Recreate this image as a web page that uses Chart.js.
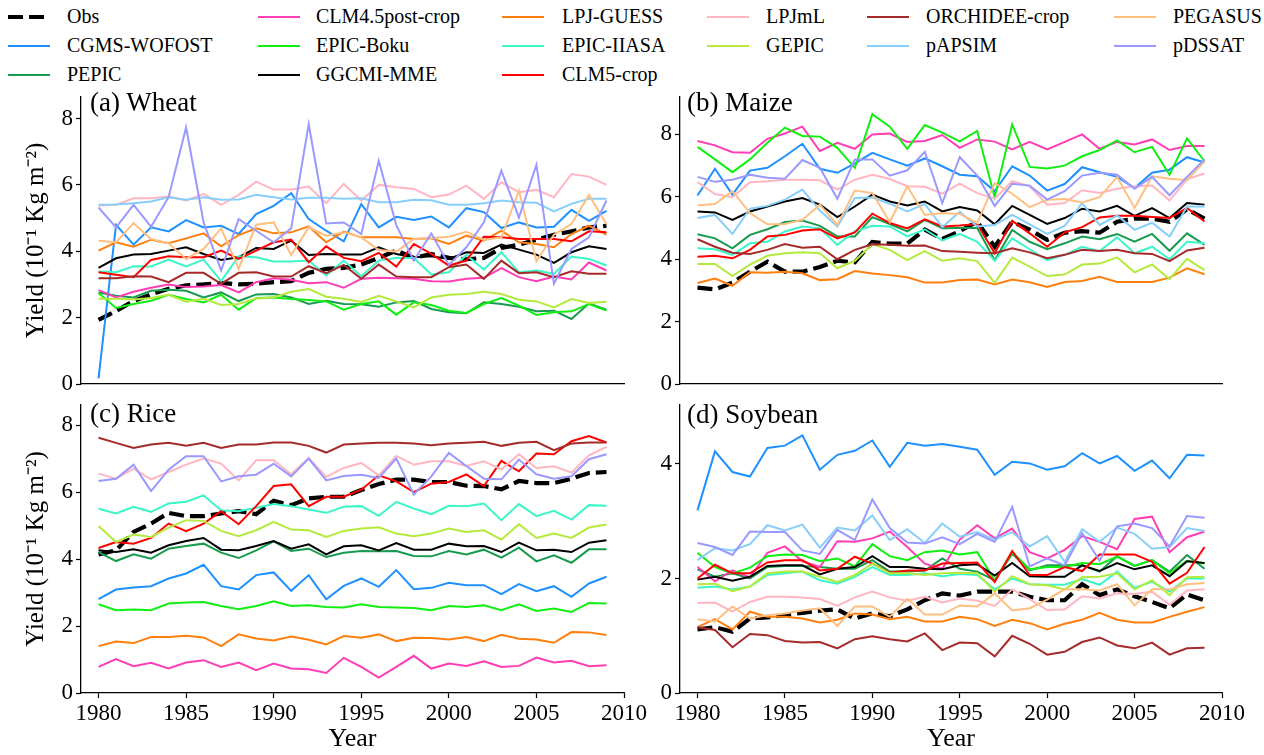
<!DOCTYPE html>
<html lang="en">
<head>
<meta charset="UTF-8">
<title>Crop yields 1980-2009</title>
<script src="https://cdn.jsdelivr.net/npm/chart.js"></script>
<style>
    body { margin: 0; background: #fff; font-family: 'Liberation Serif', 'Times New Roman', serif; color: #000; }
    #page { position: relative; width: 1264px; height: 755px; overflow: hidden; }
    canvas { position: absolute; }
    .ptitle { position: absolute; font-size: 27px; line-height: 27px; white-space: nowrap; }
    .legtext { position: absolute; font-size: 20px; line-height: 20px; white-space: nowrap; }
    .legline { position: absolute; }
</style>
</head>
<body>
<div id="page">
    <div id="legend"></div>
    <canvas id="wheat" width="665" height="310" style="left:0;top:90px"></canvas>
    <canvas id="maize" width="624" height="310" style="left:640px;top:90px"></canvas>
    <canvas id="rice" width="665" height="355" style="left:0;top:400px"></canvas>
    <canvas id="soybean" width="624" height="355" style="left:640px;top:400px"></canvas>
    <div class="ptitle" style="left:90px;top:89px">(a) Wheat</div>
    <div class="ptitle" style="left:687px;top:89px">(b) Maize</div>
    <div class="ptitle" style="left:90px;top:400px">(c) Rice</div>
    <div class="ptitle" style="left:687px;top:401px">(d) Soybean</div>
</div>
<script>
    const years = [1980,1981,1982,1983,1984,1985,1986,1987,1988,1989,1990,1991,1992,1993,1994,
                   1995,1996,1997,1998,1999,2000,2001,2002,2003,2004,2005,2006,2007,2008,2009];
    const yearTicks = [1980, 1985, 1990, 1995, 2000, 2005, 2010];

    const models = ['Obs', 'CGMS-WOFOST', 'PEPIC', 'CLM4.5post-crop', 'EPIC-Boku', 'GGCMI-MME',
                    'LPJ-GUESS', 'EPIC-IIASA', 'CLM5-crop', 'LPJmL', 'GEPIC', 'ORCHIDEE-crop',
                    'pAPSIM', 'PEGASUS', 'pDSSAT'];
    const colors = ['#000000', '#1e90ff', '#179b4e', '#ff3db4', '#11ee11', '#000000',
                    '#ff7f0e', '#3cf5c8', '#ff0000', '#ffb6c1', '#b5ea3c', '#a52a2a',
                    '#87cefa', '#ffbf80', '#9999ff'];

    // wheat
    const wheatObs = [1.93,2.2,2.5,2.7,2.87,2.97,3.0,3.05,3.0,3.02,3.07,3.1,3.35,3.47,3.5,3.6,3.8,4.02,3.8,3.92,3.8,3.76,3.8,4.1,4.2,4.35,4.5,4.6,4.72,4.77];
    const wheatCgms = [0.17,4.8,4.2,4.72,4.6,4.94,4.72,4.77,4.52,5.12,5.37,5.75,4.97,4.62,4.3,5.42,4.72,5.04,4.94,5.05,4.72,5.3,5.18,4.7,4.87,4.72,4.74,5.25,4.92,5.22];
    const wheatPepic = [2.76,2.66,2.61,2.81,2.84,2.81,2.61,2.76,2.5,2.7,2.71,2.61,2.41,2.51,2.41,2.4,2.33,2.46,2.5,2.26,2.16,2.13,2.46,2.41,2.33,2.19,2.21,1.96,2.43,2.24];
    const wheatClm45 = [2.83,2.61,2.78,2.9,3.0,2.92,2.94,2.98,2.76,3.07,3.19,3.14,3.04,3.07,2.9,3.17,3.2,3.19,3.17,3.1,3.09,3.17,3.2,3.49,3.22,3.1,3.24,3.15,3.66,3.42];
    const wheatEpicBoku = [2.74,2.29,2.41,2.51,2.69,2.56,2.46,2.69,2.24,2.59,2.61,2.56,2.53,2.49,2.24,2.41,2.49,2.09,2.46,2.38,2.21,2.14,2.41,2.59,2.36,2.08,2.16,2.19,2.41,2.21];
    const wheatMme = [3.5,3.79,3.9,3.92,4.02,4.12,3.92,3.74,3.82,4.1,4.07,4.32,3.89,3.92,3.9,3.9,4.12,3.92,3.82,3.85,3.77,3.97,3.95,4.2,4.05,3.9,3.65,3.97,4.15,4.07];
    const wheatLpjGuess = [4.02,4.27,4.14,4.35,4.24,4.39,4.54,4.15,4.49,4.69,4.54,4.57,4.75,4.27,4.59,4.42,4.42,4.42,4.37,4.39,4.22,4.47,4.32,4.62,4.27,4.22,4.12,4.52,4.77,4.5];
    const wheatEpicIiasa = [3.39,3.37,3.55,3.54,3.75,3.54,3.75,3.1,3.85,3.82,3.69,3.69,3.72,3.27,3.72,3.25,3.72,3.8,3.8,3.3,3.37,3.89,3.45,3.97,3.37,3.42,3.32,3.84,3.77,3.57];
    const wheatClm5 = [3.37,3.29,3.22,3.74,3.85,3.82,3.82,4.02,3.77,4.02,4.27,4.35,3.67,4.15,3.8,3.7,3.95,3.54,4.22,3.92,3.57,3.72,4.44,4.42,4.37,4.37,4.37,4.3,4.6,4.57];
    const wheatLpjml = [5.38,5.4,5.6,5.6,5.65,5.53,5.73,5.4,5.7,6.1,5.86,5.86,5.95,5.45,6.03,5.53,6.0,5.93,5.88,5.63,5.71,5.98,5.58,6.08,5.78,5.85,5.63,6.33,6.25,6.0];
    const wheatGepic = [2.57,2.57,2.55,2.59,2.69,2.48,2.57,2.38,2.41,2.58,2.61,2.78,2.86,2.63,2.57,2.47,2.66,2.49,2.31,2.61,2.69,2.71,2.78,2.71,2.54,2.49,2.31,2.56,2.44,2.48];
    const wheatOrchidee = [3.19,3.19,3.25,3.24,3.07,3.35,3.35,3.02,3.35,3.37,3.24,3.24,3.55,3.34,3.59,3.17,3.6,3.24,3.22,3.22,3.52,3.6,3.17,3.72,3.34,3.37,3.22,3.4,3.32,3.32];
    const wheatPapsim = [5.4,5.41,5.45,5.5,5.63,5.55,5.63,5.55,5.56,5.7,5.63,5.56,5.61,5.61,5.58,5.6,5.48,5.48,5.55,5.54,5.4,5.4,5.45,5.53,5.48,5.46,5.2,5.43,5.58,5.58];
    const wheatPegasus = [4.32,4.27,4.85,4.37,4.24,3.77,4.07,4.69,3.47,4.8,4.87,3.89,4.72,4.47,4.57,4.42,4.04,3.99,4.37,4.4,4.44,4.59,4.34,4.42,5.83,3.7,4.5,4.82,5.7,4.82];
    const wheatPdssat = [5.32,4.72,5.4,4.74,5.63,7.73,4.87,3.42,4.97,4.62,4.27,4.69,7.83,4.84,4.87,4.52,6.73,4.79,3.72,4.54,3.59,4.12,4.87,6.43,5.02,6.61,3.02,4.07,4.42,5.53];

    // maize
    const maizeObs = [3.09,3.03,3.25,3.6,3.92,3.6,3.6,3.75,3.95,3.9,4.55,4.5,4.5,4.95,4.65,4.9,5.2,4.4,5.2,4.95,4.62,4.85,4.9,4.85,5.2,5.3,5.3,5.2,5.6,5.3];
    const maizeCgms = [6.04,6.9,6.07,6.84,6.93,7.3,7.7,6.9,6.77,7.07,7.41,7.2,7.0,7.23,6.98,6.71,6.66,6.18,6.98,6.68,6.2,6.41,6.95,6.79,6.64,6.28,6.77,6.87,7.27,7.1];
    const maizePepic = [4.8,4.67,4.35,4.78,4.96,5.19,5.24,5.07,4.73,4.73,5.35,5.13,4.89,5.26,4.99,5.0,5.0,3.97,4.94,4.56,4.32,4.51,4.73,4.64,4.81,4.56,4.81,4.27,4.83,4.46];
    const maizeClm45 = [7.79,7.65,7.43,7.41,7.86,8.03,8.25,7.47,7.73,7.54,8.0,8.03,7.76,7.79,7.98,7.57,7.84,7.77,7.52,7.76,7.52,7.76,8.0,7.54,7.76,7.68,7.84,7.5,7.63,7.63];
    const maizeEpicBoku = [7.6,7.2,6.79,7.2,7.73,8.22,7.95,7.93,7.57,6.93,8.65,8.25,7.54,8.3,8.06,7.78,8.11,5.99,8.32,6.96,6.91,7.0,7.3,7.5,7.81,7.43,7.6,6.71,7.87,7.14];
    const maizeMme = [5.53,5.5,5.26,5.53,5.69,5.85,5.96,5.75,5.35,5.69,6.07,5.85,5.72,5.85,5.53,5.67,5.56,5.12,5.71,5.42,5.13,5.32,5.62,5.53,5.71,5.39,5.64,5.32,5.8,5.75];
    const maizeLpjGuess = [3.24,3.38,3.15,3.58,3.57,3.6,3.55,3.33,3.36,3.62,3.54,3.49,3.42,3.25,3.25,3.33,3.35,3.19,3.35,3.26,3.11,3.27,3.3,3.44,3.27,3.27,3.27,3.41,3.71,3.52];
    const maizeEpicIiasa = [4.35,4.32,4.14,4.51,4.56,4.89,5.05,4.99,4.46,4.89,5.07,5.05,4.73,4.96,4.6,4.81,4.56,3.95,4.67,4.32,3.97,4.14,4.4,4.26,4.7,4.19,4.4,4.0,4.56,4.51];
    const maizeClm5 = [4.08,4.11,4.03,4.3,4.73,4.78,4.92,4.96,4.67,4.86,5.46,5.16,4.99,5.28,5.05,5.08,5.13,4.19,5.23,4.83,4.4,4.86,5.03,5.34,5.39,5.39,5.35,5.32,5.64,5.21];
    const maizeLpjml = [6.47,6.09,5.99,6.47,6.5,6.55,6.55,6.53,6.23,6.55,6.71,6.57,6.34,6.32,6.1,6.42,6.12,5.94,6.5,6.34,5.75,5.8,6.21,6.12,6.26,6.34,6.36,5.88,6.57,6.75];
    const maizeGepic = [3.85,3.85,3.46,3.83,4.11,4.19,4.22,4.19,3.71,3.95,4.48,4.3,3.97,4.26,3.95,4.03,3.94,3.24,4.05,3.76,3.46,3.51,3.83,3.86,4.06,3.58,3.83,3.36,4.01,3.65];
    const maizeOrchidee = [4.64,4.4,4.21,4.17,4.3,4.49,4.37,4.4,4.0,4.3,4.48,4.46,4.43,4.44,4.26,4.24,4.21,4.19,4.35,4.22,4.03,4.14,4.3,4.26,4.3,4.19,4.17,3.94,4.28,4.37];
    const maizePapsim = [5.32,5.42,4.81,5.62,5.71,5.91,6.23,5.56,5.05,5.96,5.98,5.78,5.53,5.77,5.03,5.52,5.05,5.1,5.42,5.12,4.81,5.07,5.8,5.1,5.4,4.94,5.17,4.73,5.69,5.69];
    const maizePegasus = [5.73,5.77,6.18,5.48,5.12,5.13,5.26,5.75,5.1,6.2,6.12,5.19,6.34,5.42,5.48,5.45,5.16,6.44,6.1,5.67,5.91,5.93,5.82,5.99,6.64,5.64,6.66,6.58,6.53,7.14];
    const maizePdssat = [6.64,6.48,6.55,6.71,6.61,6.58,7.18,6.93,5.94,7.2,7.2,6.68,6.85,7.44,5.8,7.27,6.68,5.71,6.42,6.36,5.91,6.18,6.68,6.77,6.71,6.26,6.64,6.05,6.64,7.2];

    // rice (no pAPSIM / PEGASUS)
    const riceObs = [4.14,4.26,4.81,5.06,5.38,5.28,5.28,5.36,5.43,5.34,5.74,5.61,5.81,5.86,5.86,6.06,6.24,6.37,6.37,6.3,6.3,6.19,6.18,6.08,6.33,6.27,6.27,6.4,6.57,6.6];
    const riceCgms = [2.8,3.09,3.15,3.19,3.42,3.57,3.83,3.19,3.09,3.52,3.6,3.05,3.52,2.8,3.2,3.42,3.17,3.67,3.1,3.14,3.29,3.22,3.22,2.95,3.25,3.04,3.19,2.87,3.27,3.47];
    const ricePepic = [4.21,3.94,4.14,4.01,4.31,4.39,4.46,4.19,4.03,4.26,4.53,4.24,4.31,4.06,4.19,4.24,4.23,4.24,4.09,4.08,4.24,4.14,4.28,4.04,4.34,3.93,4.11,3.89,4.29,4.29];
    const riceClm45 = [0.78,1.01,0.8,0.9,0.73,0.91,0.98,0.78,0.91,0.68,0.88,0.73,0.71,0.6,1.05,0.78,0.46,0.78,1.11,0.73,0.88,0.81,0.95,0.78,0.81,1.06,0.91,0.96,0.8,0.83];
    const riceEpicBoku = [2.65,2.47,2.49,2.47,2.67,2.7,2.72,2.6,2.5,2.6,2.74,2.6,2.62,2.57,2.55,2.65,2.57,2.55,2.54,2.47,2.6,2.57,2.62,2.47,2.65,2.45,2.52,2.42,2.69,2.67];
    const riceMme = [4.26,4.21,4.29,4.19,4.41,4.54,4.63,4.28,4.26,4.39,4.54,4.31,4.44,4.14,4.38,4.41,4.26,4.48,4.28,4.28,4.46,4.38,4.39,4.21,4.49,4.26,4.28,4.21,4.49,4.56];
    const riceLpjGuess = [1.4,1.54,1.49,1.67,1.67,1.71,1.66,1.4,1.75,1.63,1.57,1.69,1.59,1.45,1.7,1.65,1.75,1.55,1.65,1.64,1.6,1.67,1.55,1.74,1.62,1.6,1.5,1.82,1.81,1.73];
    const riceEpicIiasa = [5.5,5.36,5.56,5.41,5.66,5.71,5.9,5.46,5.43,5.53,5.64,5.58,5.48,5.38,5.56,5.58,5.29,5.71,5.51,5.34,5.59,5.58,5.66,5.16,5.64,5.28,5.44,5.18,5.61,5.59];
    const riceClm5 = [4.33,4.51,4.46,4.63,5.06,4.83,5.06,5.43,5.04,5.58,6.18,6.23,5.58,5.86,5.86,6.07,6.5,6.32,6.0,6.25,6.3,6.53,6.18,6.93,6.62,7.15,7.13,7.52,7.67,7.48];
    const riceLpjml = [6.55,6.4,6.7,6.38,6.6,6.82,7.0,6.85,6.35,6.95,6.95,6.53,7.02,6.45,6.72,6.87,6.5,7.08,6.82,6.92,6.92,6.78,6.92,6.68,7.13,6.72,6.77,6.58,7.1,7.35];
    const riceGepic = [4.99,4.51,4.73,4.66,4.94,5.16,5.14,4.84,4.68,4.86,5.11,4.88,4.86,4.66,4.84,4.91,4.95,4.76,4.68,4.76,4.91,4.81,4.86,4.58,5.04,4.63,4.76,4.63,4.94,5.03];
    const riceOrchidee = [7.62,7.47,7.32,7.42,7.47,7.38,7.47,7.32,7.42,7.42,7.48,7.48,7.38,7.18,7.42,7.45,7.47,7.47,7.45,7.4,7.45,7.47,7.5,7.38,7.47,7.5,7.25,7.45,7.48,7.48];
    const ricePdssat = [6.33,6.4,6.82,6.03,6.67,7.07,7.07,6.32,6.47,6.52,6.85,6.47,7.0,6.35,6.48,6.52,6.42,7.0,5.93,6.47,7.17,6.78,6.4,6.38,6.97,6.53,6.4,6.47,6.98,7.13];

    // soybean
    const soyObs = [1.11,1.15,1.07,1.3,1.32,1.36,1.4,1.44,1.46,1.3,1.39,1.34,1.46,1.62,1.74,1.7,1.77,1.77,1.77,1.68,1.62,1.62,1.9,1.71,1.81,1.69,1.59,1.48,1.72,1.62];
    const soyCgms = [3.19,4.22,3.86,3.78,4.28,4.32,4.5,3.9,4.16,4.23,4.41,3.95,4.37,4.32,4.35,4.3,4.25,3.81,4.04,4.01,3.9,3.96,4.19,4.01,4.14,3.88,4.06,3.75,4.16,4.15];
    const soyPepic = [2.16,2.03,2.09,2.0,2.2,2.22,2.22,2.2,2.17,2.17,2.32,2.12,2.12,2.14,2.35,2.17,2.12,1.97,2.43,2.14,2.23,2.23,2.23,2.12,2.39,2.22,2.32,2.12,2.41,2.17];
    const soyClm45 = [2.2,1.95,2.14,2.02,2.45,2.56,2.3,2.2,2.65,2.64,2.7,2.82,2.55,2.26,2.17,2.68,2.93,2.7,2.87,2.46,2.35,2.5,2.74,2.64,2.51,3.04,3.08,2.46,2.72,2.82];
    const soyEpicBoku = [2.45,2.2,2.09,2.19,2.39,2.42,2.41,2.3,2.35,2.21,2.6,2.39,2.32,2.46,2.49,2.42,2.46,1.97,2.46,2.16,2.2,2.2,2.27,2.25,2.38,2.22,2.32,2.09,2.31,2.26];
    const soyMme = [1.98,2.03,1.96,2.03,2.22,2.23,2.23,2.07,2.17,2.2,2.39,2.2,2.2,2.17,2.16,2.23,2.25,2.05,2.27,2.04,2.03,2.03,2.23,2.13,2.27,2.16,2.23,2.04,2.3,2.27];
    const soyLpjGuess = [1.15,1.29,1.11,1.42,1.33,1.33,1.3,1.23,1.28,1.39,1.37,1.29,1.33,1.25,1.25,1.33,1.29,1.17,1.28,1.22,1.11,1.21,1.28,1.4,1.28,1.23,1.23,1.33,1.42,1.5];
    const soyEpicIiasa = [1.84,1.86,1.81,1.86,2.06,2.09,2.12,1.97,1.91,2.03,2.2,2.06,2.06,2.09,2.04,2.08,2.06,1.81,2.0,1.9,1.89,1.89,1.99,1.89,2.12,1.84,1.94,1.77,2.0,2.0];
    const soyClm5 = [2.0,2.24,2.09,2.09,2.28,2.32,2.32,2.14,2.17,2.38,2.26,2.1,2.14,2.14,2.26,2.27,2.28,1.94,2.48,2.06,2.06,2.2,2.13,2.42,2.42,2.42,2.29,1.91,2.1,2.55];
    const soyLpjml = [1.57,1.58,1.42,1.59,1.68,1.68,1.67,1.64,1.52,1.67,1.77,1.67,1.61,1.68,1.58,1.65,1.61,1.52,1.81,1.64,1.45,1.46,1.69,1.65,1.74,1.73,1.77,1.54,1.79,1.81];
    const soyGepic = [1.9,1.91,1.78,1.86,2.09,2.12,2.12,2.03,1.94,2.06,2.26,2.09,2.09,2.06,2.09,2.1,2.09,1.77,2.04,1.9,1.88,1.81,2.02,2.03,2.09,1.81,1.97,1.71,2.02,2.03];
    const soyOrchidee = [1.15,1.1,0.8,1.03,1.01,0.91,0.88,0.89,0.78,0.94,0.99,0.94,0.9,1.04,0.75,0.88,0.87,0.64,1.0,0.86,0.67,0.72,0.89,0.97,0.83,0.78,0.88,0.67,0.78,0.79];
    const soyPapsim = [2.32,2.53,2.49,2.6,2.93,2.84,2.94,2.54,2.89,2.84,3.1,2.67,2.86,2.62,2.96,2.73,2.81,2.68,2.81,2.56,2.74,2.29,2.86,2.64,2.89,2.78,2.52,2.55,2.88,2.83];
    const soyPegasus = [1.29,1.25,1.51,1.3,1.36,1.39,1.44,1.48,1.17,1.51,1.51,1.33,1.65,1.37,1.37,1.53,1.51,1.74,1.44,1.48,1.63,1.81,1.81,1.79,1.9,1.53,1.81,1.81,1.9,1.92];
    const soyPdssat = [2.62,2.55,2.41,2.82,2.81,2.81,2.49,2.43,2.85,2.67,3.38,2.88,2.63,2.61,2.72,2.6,2.78,2.64,3.25,2.21,2.35,2.23,2.79,2.31,2.91,2.96,2.88,2.56,3.09,3.06];

    // same order as models
    const wheat = [wheatObs, wheatCgms, wheatPepic, wheatClm45, wheatEpicBoku, wheatMme, wheatLpjGuess,
                   wheatEpicIiasa, wheatClm5, wheatLpjml, wheatGepic, wheatOrchidee, wheatPapsim, wheatPegasus, wheatPdssat];
    const maize = [maizeObs, maizeCgms, maizePepic, maizeClm45, maizeEpicBoku, maizeMme, maizeLpjGuess,
                   maizeEpicIiasa, maizeClm5, maizeLpjml, maizeGepic, maizeOrchidee, maizePapsim, maizePegasus, maizePdssat];
    const rice = [riceObs, riceCgms, ricePepic, riceClm45, riceEpicBoku, riceMme, riceLpjGuess,
                  riceEpicIiasa, riceClm5, riceLpjml, riceGepic, riceOrchidee, null, null, ricePdssat];
    const soybean = [soyObs, soyCgms, soyPepic, soyClm45, soyEpicBoku, soyMme, soyLpjGuess,
                     soyEpicIiasa, soyClm5, soyLpjml, soyGepic, soyOrchidee, soyPapsim, soyPegasus, soyPdssat];

    const serif = "'Liberation Serif', 'Times New Roman', serif";
    Chart.defaults.font.family = serif;
    Chart.defaults.color = '#000';

    function makeChart(id, series, o) {
        var datasets = [];
        series.forEach(function(vals, i) {
            if (!vals) return;
            var isObs = models[i] === 'Obs';
            datasets.push({
                label: models[i],
                data: years.map(function(yr, k) { return {x: yr, y: vals[k]}; }),
                borderColor: colors[i],
                borderWidth: isObs ? 4.2 : 2,
                borderDash: isObs ? [15, 6] : [],
                borderCapStyle: 'butt',
                pointRadius: 0,
                tension: 0,
                fill: false,
                order: models.length - i   // later models on top, like the original
            });
        });
        new Chart(document.getElementById(id), {
            type: 'line',
            data: {datasets: datasets},
            options: {
                responsive: false,
                animation: false,
                layout: {padding: {top: o.padTop, right: o.padRight, left: 0, bottom: 0}},
                plugins: {legend: {display: false}, tooltip: {enabled: false}},
                scales: {
                    x: {
                        type: 'linear', min: 1979, max: 2010,
                        afterBuildTicks: function(s) { s.ticks = yearTicks.map(function(v) { return {value: v}; }); },
                        afterFit: function(s) { s.height = o.xHeight; s.paddingLeft = 0; s.paddingRight = 0; },
                        ticks: {display: o.showX, padding: 2, font: {family: serif, size: 23}, maxRotation: 0,
                                callback: function(v) { return String(v); }},
                        grid: {display: true, drawOnChartArea: false, drawTicks: o.showX, tickLength: 5, tickColor: '#000', tickWidth: 1.2},
                        border: {display: true, color: '#000', width: 1.3},
                        title: {display: o.showX, text: 'Year', font: {family: serif, size: 26}, padding: {top: 0, bottom: 0}}
                    },
                    y: {
                        min: 0, max: o.yMax,
                        afterBuildTicks: function(s) { s.ticks = o.yTicks.map(function(v) { return {value: v}; }); },
                        afterFit: function(s) { s.width = o.yWidth; s.paddingTop = 0; s.paddingBottom = 0; },
                        ticks: {padding: 3, font: {family: serif, size: 23}, callback: function(v) { return String(v); }},
                        grid: {display: true, drawOnChartArea: false, drawTicks: true, tickLength: 5, tickColor: '#000', tickWidth: 1.2},
                        border: {display: true, color: '#000', width: 1.3},
                        title: {display: o.yTitle, text: 'Yield (10\u207B\u00B9 Kg m\u207B\u00B2)', font: {family: serif, size: 25}, padding: {top: 21, bottom: 0}}
                    }
                }
            }
        });
    }

    makeChart('wheat', wheat, {padTop: 7, padRight: 41, xHeight: 16, showX: false, yMax: 8.65, yTicks: [0, 2, 4, 6, 8], yWidth: 81, yTitle: true});
    makeChart('maize', maize, {padTop: 7, padRight: 42, xHeight: 16, showX: false, yMax: 9.2, yTicks: [0, 2, 4, 6, 8], yWidth: 40, yTitle: false});
    makeChart('rice', rice, {padTop: 5, padRight: 41, xHeight: 62, showX: true, yMax: 8.6, yTicks: [0, 2, 4, 6, 8], yWidth: 81, yTitle: true});
    makeChart('soybean', soybean, {padTop: 5, padRight: 42, xHeight: 62, showX: true, yMax: 5.03, yTicks: [0, 2, 4], yWidth: 40, yTitle: false});

    // legend: 6 columns, filled column by column like matplotlib
    const legendLineX = [8, 258, 502, 707, 867, 1114];
    const legendTextX = [67, 316, 562, 766, 926, 1173];
    const legendRowY = [17, 46, 75];
    var legend = document.getElementById('legend');
    var ncol = 6, nrow = Math.ceil(models.length / ncol), full = models.length % ncol || ncol;
    models.forEach(function(name, i) {
        var col, row;
        if (i < full * nrow) { col = Math.floor(i / nrow); row = i % nrow; }
        else { var j = i - full * nrow; col = full + Math.floor(j / (nrow - 1)); row = j % (nrow - 1); }
        var y = legendRowY[row];
        var line;
        if (name === 'Obs') {
            line = document.createElementNS('http://www.w3.org/2000/svg', 'svg');
            line.setAttribute('width', 42); line.setAttribute('height', 8);
            line.innerHTML = '<line x1="0" y1="4" x2="42" y2="4" stroke="#000" stroke-width="4.2" stroke-dasharray="15,6"/>';
            line.setAttribute('class', 'legline');
            line.style.left = legendLineX[col] + 'px'; line.style.top = (y - 4) + 'px';
        } else {
            line = document.createElement('div');
            line.className = 'legline';
            line.style.cssText = 'left:' + legendLineX[col] + 'px;top:' + (y - 1.25) + 'px;width:42px;height:2.5px;background:' + colors[i];
        }
        legend.appendChild(line);
        var t = document.createElement('div');
        t.className = 'legtext';
        t.style.left = legendTextX[col] + 'px';
        t.style.top = (y - 10.7) + 'px';
        t.textContent = name;
        legend.appendChild(t);
    });
</script>
</body>
</html>
